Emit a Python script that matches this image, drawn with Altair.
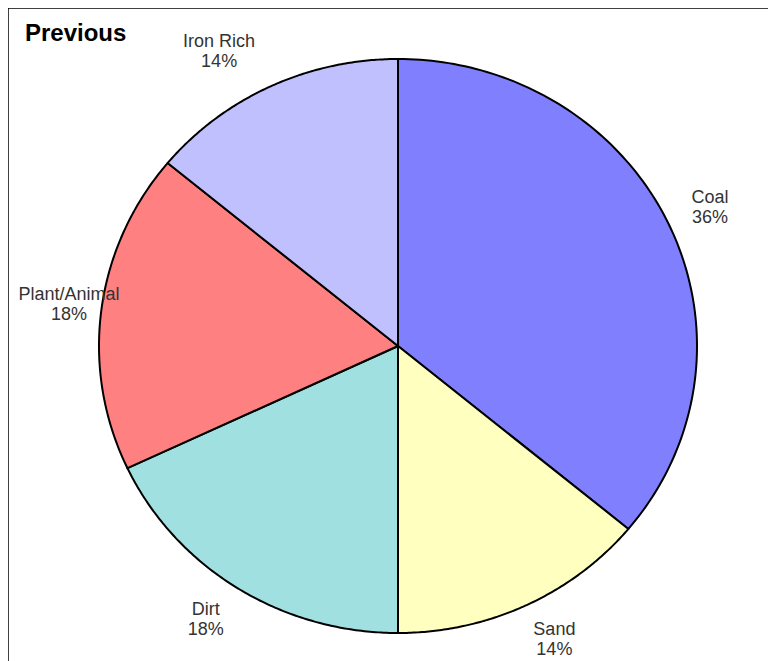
import altair as alt
import pandas as pd

categories = ["Coal", "Sand", "Dirt", "Plant/Animal", "Iron Rich"]
values = [36, 14, 18, 18, 14]
colors = ["#8080FF", "#FFFFC0", "#A0E0E0", "#FF8080", "#C0C0FF"]
title_text = "Previous"

df = pd.DataFrame({
    "category": categories,
    "value": values,
    "order": list(range(len(categories))),
    "pct": [f"{v}%" for v in values],
})

W, H = 760, 653
CX, CY = 390, 338      # pie centre (chart pixels)
RX, RY = 299, 287      # pie radii (the original is slightly squashed)
N = 120                # arc resolution per slice
LABEL_R = 325
CHAR_W = 9.0
LEFT_LIMIT = 7
LINE_H = 20


def angles(chart):
    return chart.transform_joinaggregate(
        total="sum(value)"
    ).transform_window(
        cum="sum(value)", sort=[alt.SortField("order")], frame=[None, 0]
    )


slices = angles(alt.Chart(df)).transform_calculate(
    a0="2*PI*(datum.cum - datum.value)/datum.total",
    a1="2*PI*datum.cum/datum.total",
    k=f"sequence(0, {N + 3})",
).transform_flatten(["k"]).transform_calculate(
    ang=f"datum.a0 + (datum.a1 - datum.a0)*(datum.k - 1)/{N}",
    edge=f"datum.k == 0 || datum.k == {N + 2}",
).transform_calculate(
    px=f"datum.edge ? {CX} : {CX} + {RX}*sin(datum.ang)",
    py=f"datum.edge ? {CY} : {CY} - {RY}*cos(datum.ang)",
).mark_line(stroke="black", strokeWidth=2, strokeJoin="round").encode(
    x=alt.X("px:Q", scale=None),
    y=alt.Y("py:Q", scale=None),
    fill=alt.Fill("category:N", scale=alt.Scale(domain=categories, range=colors), legend=None),
    detail="category:N",
    order=alt.Order("k:Q"),
)

labels = angles(alt.Chart(df)).transform_calculate(
    mid="2*PI*(datum.cum - datum.value/2)/datum.total",
    halfw=f"max(length(datum.category), length(datum.pct))*{CHAR_W}/2",
).transform_calculate(
    lx0=f"{CX} + {LABEL_R}*sin(datum.mid) + (sin(datum.mid) > 0 ? 1 : -1)*datum.halfw",
    ly=f"{CY} - {LABEL_R}*cos(datum.mid) - {LINE_H}/2",
).transform_calculate(
    lx=f"max(datum.lx0, {LEFT_LIMIT} + datum.halfw)",
    label="datum.category + '\\n' + datum.pct",
).mark_text(
    font="Liberation Sans", fontSize=18, lineHeight=LINE_H,
    lineBreak="\n", align="center", baseline="middle", color="#333333",
).encode(
    x=alt.X("lx:Q", scale=None),
    y=alt.Y("ly:Q", scale=None),
    text="label:N",
)

title = alt.Chart(pd.DataFrame({"t": [title_text]})).mark_text(
    font="Liberation Sans", fontSize=24, fontWeight="bold", align="left",
    baseline="alphabetic", color="black",
).encode(x=alt.value(17), y=alt.value(33), text="t:N")

frame_top = alt.Chart(pd.DataFrame({"a": [0]})).mark_rule(color="black", strokeWidth=1.5).encode(
    x=alt.value(0), x2=alt.value(W), y=alt.value(0)
)
frame_left = alt.Chart(pd.DataFrame({"a": [0]})).mark_rule(color="black", strokeWidth=1.5).encode(
    x=alt.value(0), y=alt.value(0), y2=alt.value(H)
)

chart = alt.layer(slices, labels, title, frame_top, frame_left).properties(
    width=W, height=H, padding=0, autosize=alt.AutoSizeParams(type="none"),
    background="white",
).configure_view(stroke=None)

chart.save("out.html", embed_options={"renderer": "svg", "actions": False})
